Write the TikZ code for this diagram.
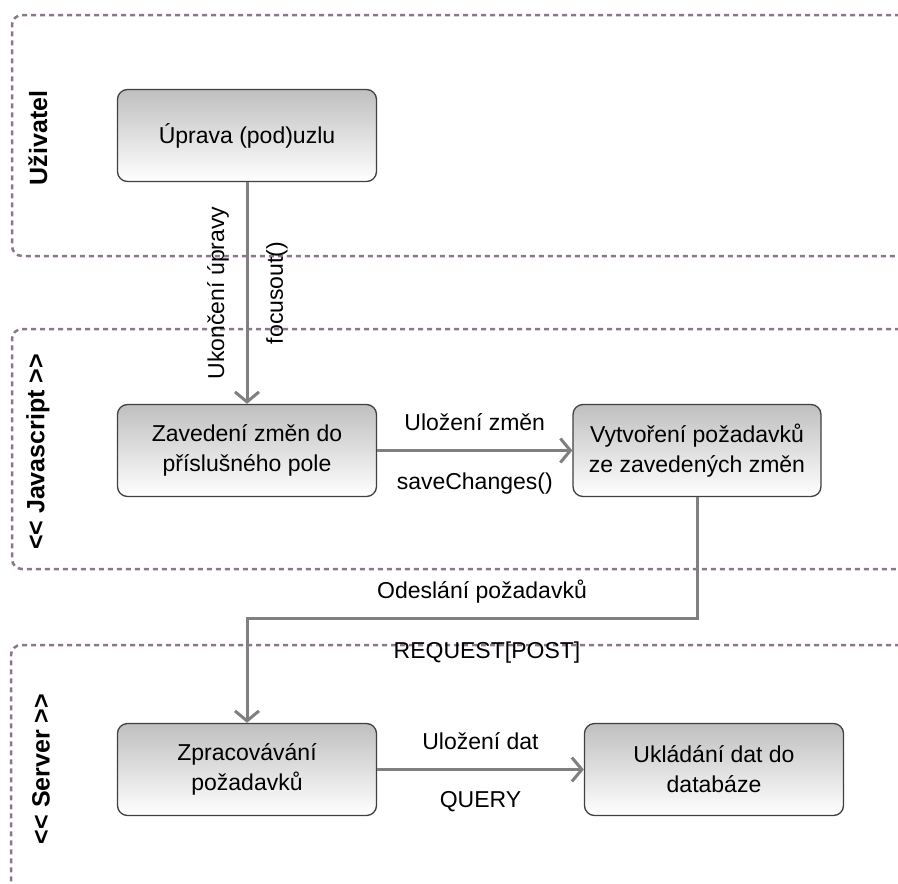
\documentclass[tikz,border=0pt]{standalone}
\usepackage{fontspec}
\setmainfont{Liberation Sans}
\usetikzlibrary{arrows.meta,positioning}
\definecolor{lanecol}{RGB}{140,118,140}

\begin{document}
\begin{tikzpicture}[x=1pt,y=-1pt,>={Straight Barb[length=10pt,width=24pt]},
  node distance=315pt,
  main node/.style={rectangle,rounded corners=10pt,draw=black!75,line width=1.3pt,
    top color=black!25,bottom color=white,minimum width=259pt,minimum height=92pt,
    align=center,font=\fontsize{23}{30}\selectfont},
  lane/.style={draw=lanecol,line width=2.5pt,dash pattern=on 5pt off 4pt,rounded corners=10pt},
  lane label/.style={rotate=90,font=\bfseries\fontsize{25}{28}\selectfont},
  flow/.style={->,draw=black!50,line width=3pt},
  lbl/.style={font=\fontsize{23}{26}\selectfont,anchor=center}]

  \useasboundingbox (0,0) rectangle (898,884);

  % swimlanes
  \draw[lane] (900,15) -- (12,15) -- (12,256) -- (900,256);
  \draw[lane] (900,329) -- (12,329) -- (12,569) -- (900,569);
  \draw[lane] (900,645) -- (11,645) -- (11,890);

  \node[lane label] (u) at (38,138) {Uživatel};
  \node[lane label] (js) at (38,452) {{<}{<} Javascript {>}{>}};
  \node[lane label] (srv) at (41,769) {{<}{<} Server {>}{>}};

  % activities
  \node[main node] (1) at (247,135.5) {Úprava (pod)uzlu};
  \node[main node] (2) [below of=1] {Zavedení změn do\\příslušného pole};
  \node[main node, minimum width=248pt] (3) [right of=2, node distance=450pt] {Vytvoření požadavků\\ze zavedených změn};
  \node[main node] (4) [below of=2, node distance=319pt] {Zpracovávání\\požadavků};
  \node[main node] (5) [right of=4, node distance=467pt] {Ukládání dat do\\databáze};

  \coordinate (k) at (697,618);

  \path[flow]
    (1) edge node[lbl, xshift=-29pt, rotate=90] {Ukončení úpravy}
             node[lbl, xshift=30pt, rotate=90] {focusout()} (2)
    (2) edge node[lbl, yshift=28pt] {Uložení změn}
             node[lbl, yshift=-33pt] {saveChanges()} (3)
    (4) edge node[lbl, yshift=28pt] {Uložení dat}
             node[lbl, yshift=-32pt] {QUERY} (5);

  \draw[flow] (3) -- (k) -| (4)
    node[lbl, pos=0.25, xshift=10pt, yshift=26pt] {Odeslání požadavků}
    node[lbl, pos=0.25, xshift=15pt, yshift=-35pt] {REQUEST[POST]};

\end{tikzpicture}
\end{document}
